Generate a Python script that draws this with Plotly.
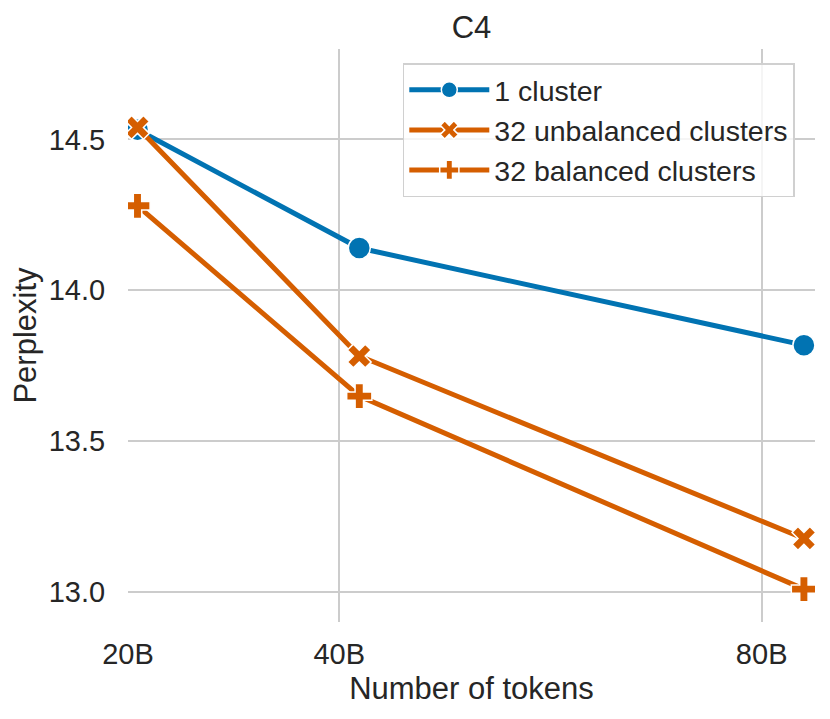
import plotly.graph_objects as go

tokens_b = [20.9, 41.9, 84.0]
one_cluster = [14.532, 14.140, 13.818]
unbalanced_32 = [14.540, 13.782, 13.177]
balanced_32 = [14.280, 13.649, 13.009]
x_ticks = [20, 40, 80]
x_tick_labels = ["20B", "40B", "80B"]
y_ticks = [13.0, 13.5, 14.0, 14.5]

BLUE = "#0173b2"
ORANGE = "#d55e00"
FONT = "Liberation Sans, Arial, sans-serif"

fig = go.Figure()
series = [
    ("1 cluster", one_cluster, BLUE, "circle", 22),
    ("32 unbalanced clusters", unbalanced_32, ORANGE, "x", 21),
    ("32 balanced clusters", balanced_32, ORANGE, "cross", 21),
]
for name, vals, col, sym, sz in series:
    fig.add_trace(go.Scatter(
        x=tokens_b, y=vals, name=name, mode="lines+markers",
        line=dict(color=col, width=5),
        marker=dict(symbol=sym, size=sz, color=col, line=dict(color="white", width=1.5)),
    ))

fig.update_layout(
    width=830, height=719,
    margin=dict(l=120, r=23, t=41, b=105),
    paper_bgcolor="white", plot_bgcolor="white",
    font=dict(family=FONT, color="#262626", size=28),
    title=dict(text="C4", x=0.5, xref="paper", y=1 - 19 / 719, yanchor="middle",
               font=dict(size=31, color="#262626")),
    showlegend=True,
    legend=dict(x=0.4, y=0.975, xanchor="left", yanchor="top",
                bgcolor="rgba(255,255,255,0.8)", bordercolor="#d0d0d0", borderwidth=1.5,
                font=dict(size=28.5, color="#262626"), itemwidth=80),
    xaxis=dict(range=[20, 85.05], tickvals=x_ticks, ticktext=x_tick_labels,
               showgrid=True, gridcolor="#cccccc", gridwidth=1.5, zeroline=False,
               showline=False, ticks="outside", ticklen=6, tickcolor="rgba(0,0,0,0)",
               tickfont=dict(size=29),
               title=dict(text="Number of tokens", font=dict(size=31), standoff=8)),
    yaxis=dict(range=[12.9, 14.8], tickvals=y_ticks, tickformat=".1f",
               showgrid=True, gridcolor="#cccccc", gridwidth=1.5, zeroline=False,
               showline=False, ticks="outside", ticklen=16, tickcolor="rgba(0,0,0,0)",
               tickfont=dict(size=29),
               title=dict(text="Perplexity", font=dict(size=31), standoff=2)),
)

fig.write_html("out.html")
